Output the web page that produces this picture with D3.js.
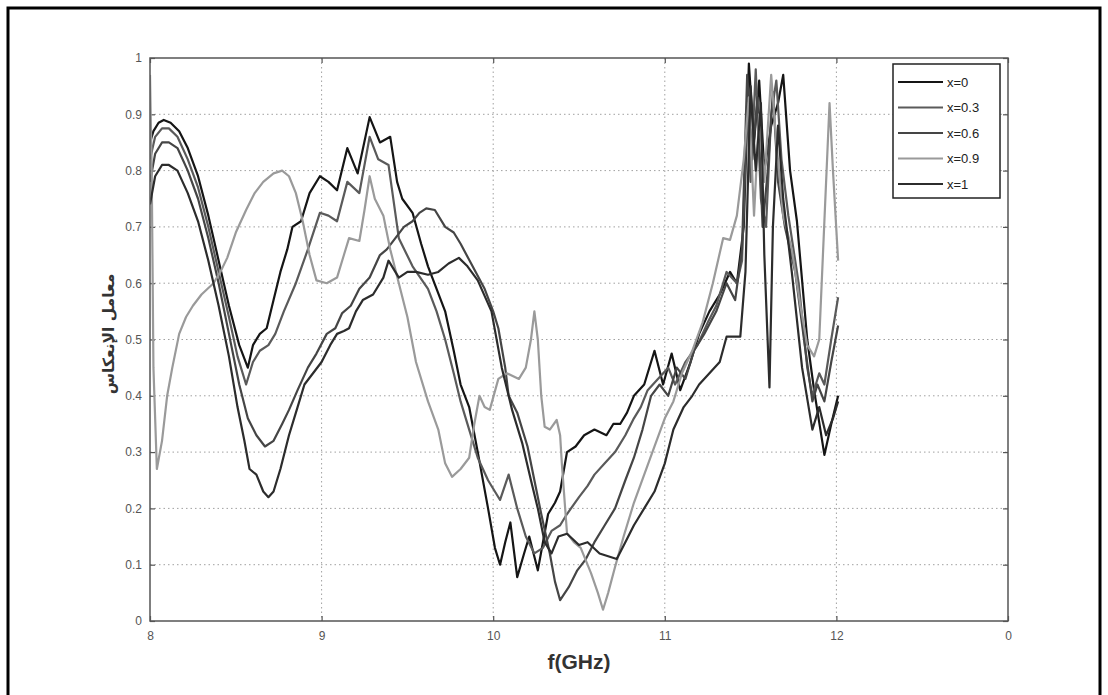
<!DOCTYPE html>
<html><head><meta charset="utf-8">
<script src="https://cdn.jsdelivr.net/npm/d3@7"></script>
<style>html,body{margin:0;padding:0;background:#fff;}</style>
</head><body>
<svg id="chart" width="1108" height="695"></svg>
<script>
const legendLabels = ["x=0","x=0.3","x=0.6","x=0.9","x=1"];
const xTicks = [8,9,10,11,12,13];
const xTickLabels = ["8","9","10","11","12","0"];
const yTicks = [0,0.1,0.2,0.3,0.4,0.5,0.6,0.7,0.8,0.9,1];
const yTickLabels = ["0","0.1","0.2","0.3","0.4","0.5","0.6","0.7","0.8","0.9","1"];
const xTitle = "f(GHz)";
const yTitle = "معامل الإنعكاس";

const seriesX0 = [[8.00,0.85],[8.02,0.87],[8.05,0.885],[8.08,0.89],[8.12,0.885],[8.17,0.87],[8.22,0.84],[8.28,0.79],[8.34,0.72],[8.40,0.64],[8.46,0.56],[8.52,0.49],[8.57,0.45],[8.60,0.49],[8.64,0.51],[8.68,0.52],[8.72,0.57],[8.76,0.62],[8.80,0.66],[8.83,0.70],[8.88,0.71],[8.93,0.76],[8.99,0.79],[9.04,0.78],[9.09,0.765],[9.15,0.84],[9.21,0.795],[9.28,0.895],[9.34,0.85],[9.40,0.86],[9.44,0.78],[9.47,0.75],[9.53,0.725],[9.58,0.67],[9.62,0.63],[9.67,0.59],[9.72,0.55],[9.77,0.48],[9.81,0.42],[9.86,0.38],[9.91,0.30],[9.97,0.20],[10.01,0.13],[10.04,0.10],[10.07,0.14],[10.10,0.175],[10.14,0.078],[10.18,0.12],[10.21,0.15],[10.26,0.09],[10.29,0.14],[10.32,0.19],[10.36,0.21],[10.39,0.23],[10.43,0.30],[10.48,0.31],[10.53,0.33],[10.59,0.34],[10.66,0.33],[10.70,0.35],[10.74,0.35],[10.78,0.37],[10.82,0.40],[10.88,0.42],[10.94,0.48],[10.99,0.42],[11.04,0.475],[11.09,0.41],[11.15,0.46],[11.20,0.51],[11.26,0.55],[11.32,0.58],[11.38,0.62],[11.42,0.60],[11.46,0.70],[11.49,0.99],[11.52,0.85],[11.55,0.96],[11.58,0.80],[11.62,0.88],[11.66,0.92],[11.69,0.97],[11.73,0.80],[11.77,0.71],[11.83,0.50],[11.87,0.41],[11.93,0.295],[11.97,0.35],[12.01,0.40]];

const seriesX03 = [[8.00,0.82],[8.03,0.86],[8.07,0.875],[8.11,0.875],[8.16,0.86],[8.22,0.82],[8.28,0.77],[8.34,0.70],[8.40,0.62],[8.46,0.54],[8.51,0.47],[8.56,0.42],[8.60,0.46],[8.64,0.48],[8.69,0.49],[8.73,0.51],[8.78,0.55],[8.85,0.60],[8.92,0.66],[8.99,0.725],[9.04,0.72],[9.09,0.71],[9.15,0.78],[9.22,0.76],[9.28,0.86],[9.33,0.82],[9.39,0.81],[9.45,0.68],[9.53,0.63],[9.62,0.59],[9.67,0.55],[9.72,0.50],[9.77,0.44],[9.81,0.39],[9.86,0.34],[9.91,0.29],[9.97,0.25],[10.04,0.215],[10.09,0.26],[10.14,0.20],[10.19,0.15],[10.24,0.12],[10.29,0.13],[10.34,0.16],[10.39,0.17],[10.43,0.19],[10.50,0.22],[10.55,0.24],[10.59,0.26],[10.65,0.28],[10.71,0.30],[10.77,0.33],[10.82,0.36],[10.86,0.38],[10.90,0.41],[10.96,0.43],[11.02,0.45],[11.06,0.42],[11.12,0.46],[11.19,0.49],[11.25,0.53],[11.30,0.56],[11.36,0.62],[11.42,0.60],[11.45,0.64],[11.48,0.92],[11.50,0.78],[11.53,0.98],[11.56,0.75],[11.59,0.70],[11.62,0.90],[11.65,0.96],[11.68,0.82],[11.72,0.72],[11.78,0.60],[11.83,0.45],[11.86,0.40],[11.90,0.44],[11.93,0.42],[11.97,0.50],[12.01,0.575]];

const seriesX06 = [[8.00,0.78],[8.03,0.83],[8.07,0.85],[8.11,0.85],[8.16,0.84],[8.22,0.80],[8.28,0.75],[8.34,0.68],[8.40,0.60],[8.46,0.51],[8.52,0.42],[8.57,0.36],[8.62,0.33],[8.67,0.31],[8.72,0.32],[8.77,0.35],[8.81,0.375],[8.86,0.41],[8.92,0.45],[8.97,0.475],[9.03,0.51],[9.08,0.52],[9.12,0.547],[9.17,0.56],[9.22,0.59],[9.28,0.61],[9.34,0.65],[9.38,0.66],[9.43,0.68],[9.48,0.70],[9.53,0.71],[9.57,0.725],[9.61,0.733],[9.66,0.73],[9.72,0.70],[9.77,0.69],[9.81,0.67],[9.88,0.63],[9.95,0.59],[10.00,0.55],[10.03,0.52],[10.07,0.45],[10.09,0.40],[10.14,0.37],[10.20,0.31],[10.24,0.25],[10.28,0.19],[10.33,0.12],[10.36,0.07],[10.39,0.037],[10.44,0.06],[10.49,0.09],[10.54,0.11],[10.59,0.14],[10.65,0.17],[10.71,0.20],[10.77,0.25],[10.82,0.29],[10.87,0.34],[10.92,0.40],[10.97,0.42],[11.02,0.40],[11.07,0.45],[11.12,0.43],[11.17,0.48],[11.23,0.51],[11.30,0.55],[11.36,0.60],[11.41,0.57],[11.45,0.66],[11.48,0.97],[11.51,0.82],[11.54,0.93],[11.57,0.70],[11.60,0.80],[11.63,0.94],[11.66,0.78],[11.70,0.70],[11.76,0.62],[11.82,0.48],[11.86,0.39],[11.89,0.42],[11.93,0.39],[11.97,0.46],[12.01,0.525]];

const seriesX09 = [[8.00,0.97],[8.01,0.80],[8.02,0.45],[8.04,0.27],[8.07,0.32],[8.10,0.40],[8.13,0.45],[8.17,0.51],[8.21,0.54],[8.25,0.56],[8.30,0.58],[8.37,0.60],[8.41,0.62],[8.45,0.645],[8.50,0.69],[8.56,0.73],[8.61,0.76],[8.66,0.78],[8.72,0.795],[8.77,0.80],[8.81,0.79],[8.85,0.76],[8.89,0.71],[8.93,0.65],[8.97,0.605],[9.03,0.60],[9.09,0.61],[9.13,0.65],[9.16,0.68],[9.22,0.675],[9.25,0.73],[9.28,0.79],[9.31,0.75],[9.36,0.72],[9.40,0.66],[9.45,0.60],[9.50,0.54],[9.55,0.46],[9.62,0.39],[9.68,0.34],[9.72,0.28],[9.76,0.256],[9.81,0.27],[9.86,0.29],[9.89,0.35],[9.92,0.40],[9.95,0.38],[9.98,0.375],[10.03,0.43],[10.08,0.44],[10.15,0.43],[10.19,0.45],[10.22,0.50],[10.24,0.55],[10.26,0.50],[10.28,0.40],[10.30,0.345],[10.33,0.34],[10.37,0.357],[10.39,0.33],[10.40,0.28],[10.43,0.156],[10.47,0.14],[10.51,0.13],[10.57,0.085],[10.61,0.05],[10.64,0.02],[10.67,0.05],[10.71,0.096],[10.76,0.15],[10.82,0.21],[10.88,0.26],[10.94,0.31],[11.00,0.36],[11.05,0.39],[11.10,0.44],[11.16,0.48],[11.22,0.53],[11.28,0.60],[11.34,0.68],[11.38,0.677],[11.42,0.72],[11.46,0.82],[11.49,0.93],[11.52,0.72],[11.55,0.90],[11.58,0.78],[11.62,0.97],[11.65,0.85],[11.69,0.72],[11.74,0.66],[11.79,0.56],[11.83,0.49],[11.87,0.47],[11.90,0.50],[11.93,0.71],[11.96,0.92],[11.98,0.80],[12.01,0.64]];

const seriesX1 = [[8.00,0.74],[8.03,0.79],[8.07,0.81],[8.11,0.81],[8.16,0.80],[8.22,0.76],[8.28,0.71],[8.34,0.64],[8.40,0.56],[8.46,0.47],[8.51,0.38],[8.55,0.32],[8.58,0.27],[8.62,0.26],[8.66,0.23],[8.69,0.22],[8.72,0.23],[8.76,0.27],[8.81,0.33],[8.86,0.38],[8.90,0.42],[8.95,0.44],[9.00,0.46],[9.05,0.49],[9.09,0.51],[9.13,0.515],[9.16,0.52],[9.20,0.55],[9.24,0.57],[9.30,0.58],[9.36,0.61],[9.39,0.64],[9.45,0.61],[9.50,0.62],[9.55,0.62],[9.62,0.615],[9.68,0.62],[9.74,0.635],[9.80,0.645],[9.85,0.63],[9.91,0.605],[9.99,0.55],[10.05,0.45],[10.11,0.375],[10.17,0.315],[10.22,0.25],[10.26,0.20],[10.30,0.14],[10.34,0.12],[10.38,0.15],[10.43,0.155],[10.50,0.135],[10.55,0.14],[10.62,0.12],[10.67,0.115],[10.72,0.11],[10.77,0.14],[10.82,0.17],[10.88,0.20],[10.94,0.23],[11.00,0.28],[11.05,0.34],[11.11,0.38],[11.16,0.40],[11.20,0.42],[11.26,0.44],[11.32,0.46],[11.36,0.505],[11.40,0.505],[11.44,0.505],[11.47,0.62],[11.50,0.95],[11.53,0.80],[11.56,0.92],[11.58,0.65],[11.61,0.415],[11.63,0.70],[11.66,0.88],[11.69,0.75],[11.74,0.62],[11.80,0.45],[11.86,0.34],[11.90,0.38],[11.94,0.33],[11.98,0.36],[12.01,0.39]];

const allSeries = [seriesX0, seriesX03, seriesX06, seriesX09, seriesX1];
const colors = ["#151515","#5a5a5a","#454545","#9a9a9a","#2c2c2c"];

const svg = d3.select("#chart");
const L = 150, R = 1008, T = 58, B = 621;
const x = d3.scaleLinear().domain([8,13]).range([L,R]);
const y = d3.scaleLinear().domain([0,1]).range([B,T]);

// outer frame
svg.append("rect").attr("x",8).attr("y",8).attr("width",1092).attr("height",700)
  .attr("fill","none").attr("stroke","#000").attr("stroke-width",3);

// grid
const grid = svg.append("g");
grid.selectAll("line.gx").data(xTicks.slice(1,-1)).enter().append("line")
  .attr("x1",d=>x(d)).attr("x2",d=>x(d)).attr("y1",T).attr("y2",B)
  .attr("stroke","#a0a0a0").attr("stroke-width",1).attr("stroke-dasharray","1.5,3");
grid.selectAll("line.gy").data(yTicks.slice(1,-1)).enter().append("line")
  .attr("x1",L).attr("x2",R).attr("y1",d=>y(d)).attr("y2",d=>y(d))
  .attr("stroke","#a0a0a0").attr("stroke-width",1).attr("stroke-dasharray","1.5,3");

// axes with inward ticks
const axB = d3.axisBottom(x).tickValues(xTicks).tickSize(-5).tickPadding(10).tickFormat((d,i)=>xTickLabels[i]);
const axL = d3.axisLeft(y).tickValues(yTicks).tickSize(-5).tickPadding(8).tickFormat((d,i)=>yTickLabels[i]);
const axT = d3.axisTop(x).tickValues(xTicks).tickSize(-5).tickFormat("");
const axR = d3.axisRight(y).tickValues(yTicks).tickSize(-5).tickFormat("");
function styleAxis(g){
  g.select(".domain").remove();
  g.selectAll(".tick line").attr("stroke","#555").attr("stroke-width",1.2);
  g.selectAll(".tick text").attr("fill","#555").style("font-family","'Liberation Sans', Arial, sans-serif").style("font-size","12px");
}
svg.append("g").attr("transform",`translate(0,${B})`).call(axB).call(styleAxis);
svg.append("g").attr("transform",`translate(${L},0)`).call(axL).call(styleAxis);
svg.append("g").attr("transform",`translate(0,${T})`).call(axT).call(styleAxis);
svg.append("g").attr("transform",`translate(${R},0)`).call(axR).call(styleAxis);

// lines
const line = d3.line().x(d=>x(d[0])).y(d=>y(d[1]));
svg.append("clipPath").attr("id","pc").append("rect").attr("x",L).attr("y",T-2).attr("width",R-L).attr("height",B-T+2);
svg.append("g").attr("clip-path","url(#pc)").selectAll("path").data(allSeries).enter().append("path")
  .attr("d",line).attr("fill","none").attr("stroke",(d,i)=>colors[i]).attr("stroke-width",2.2)
  .attr("stroke-linejoin","round");

// plot frame
svg.append("rect").attr("x",L).attr("y",T).attr("width",R-L).attr("height",B-T)
  .attr("fill","none").attr("stroke","#555").attr("stroke-width",1.5);

// legend
const lg = svg.append("g");
lg.append("rect").attr("x",893).attr("y",64).attr("width",107).attr("height",134)
  .attr("fill","#fff").attr("stroke","#222").attr("stroke-width",1.5);
legendLabels.forEach((lab,i)=>{
  const yy = 82 + i*25.5;
  lg.append("line").attr("x1",898).attr("x2",943).attr("y1",yy).attr("y2",yy)
    .attr("stroke",colors[i]).attr("stroke-width",2);
  lg.append("text").attr("x",947).attr("y",yy+4.5).text(lab)
    .attr("fill","#222").style("font-family","'Liberation Sans', Arial, sans-serif").style("font-size","13px");
});

// titles
svg.append("text").attr("x",579).attr("y",669).attr("text-anchor","middle").text(xTitle)
  .attr("fill","#333").style("font-family","'Liberation Sans', Arial, sans-serif").style("font-size","21px").style("font-weight","bold");
svg.append("text").attr("transform","translate(114,334) rotate(-90)").attr("text-anchor","middle").text(yTitle)
  .attr("fill","#333").style("font-family","'DejaVu Sans', sans-serif").style("font-size","15.5px").style("font-weight","bold");
</script>
</body></html>
